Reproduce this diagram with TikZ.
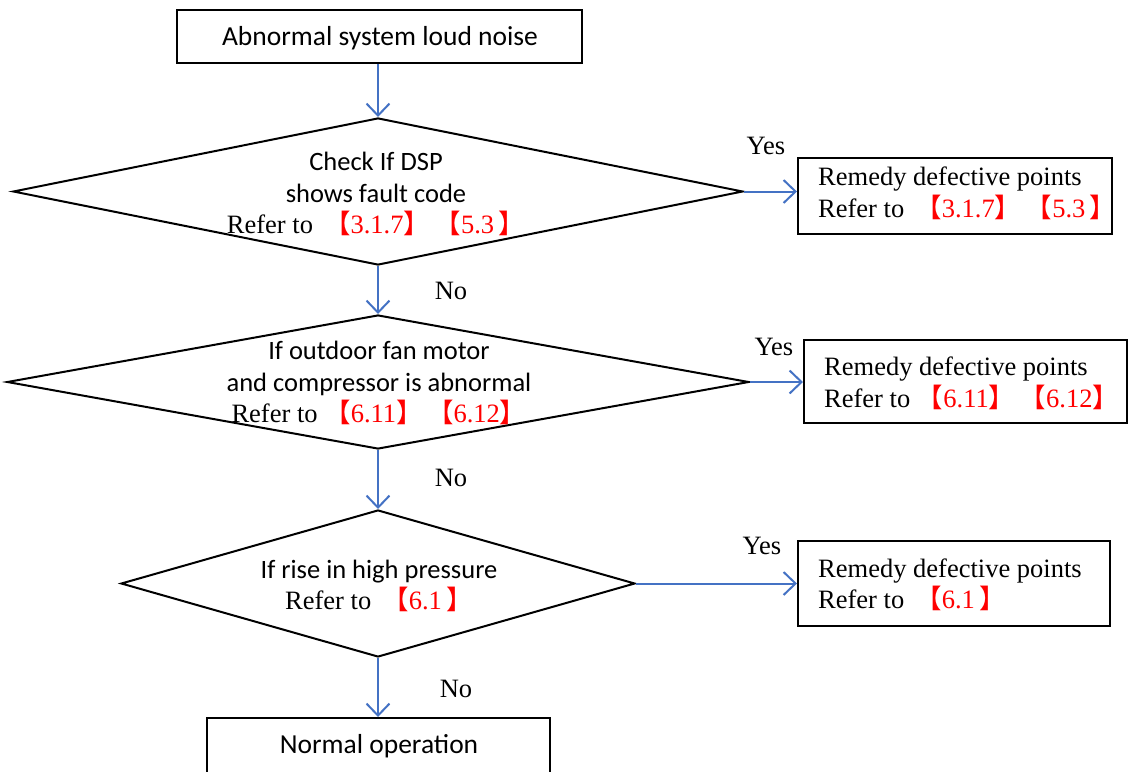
\documentclass[tikz,border=0pt]{standalone}
\usepackage{fontspec}
\setmainfont{Liberation Serif}
\newfontfamily\calfont{Carlito}
\newfontfamily\cjkfont{Noto Sans CJK SC}
\usetikzlibrary{arrows.meta,shapes.geometric}
\definecolor{arrowblue}{RGB}{68,114,196}
\definecolor{refred}{RGB}{255,0,0}
\newcommand{\rf}[1]{\textcolor{refred}{#1}}
\newcommand{\lb}{\textcolor{refred}{\cjkfont 【}}
\newcommand{\rb}{\textcolor{refred}{\cjkfont 】}}
\tikzset{
  boxnode/.style={draw=black,line width=2pt,rectangle,inner sep=0pt},
  decision/.style={draw=black,line width=2pt,diamond,inner sep=0pt},
  flow/.style={draw=arrowblue,line width=2pt,-{Straight Barb[length=12pt,width=23pt,line width=2pt]}},
  lbl/.style={font=\fontsize{26.5}{31}\selectfont,inner sep=0pt},
  dtext/.style={align=center,inner sep=0pt,font=\fontsize{26.5}{31.5}\selectfont},
  btext/.style={align=left,inner sep=0pt,font=\fontsize{26.5}{31.5}\selectfont,anchor=north west},
}
\begin{document}
\begin{tikzpicture}[x=1pt,y=-1pt]
\useasboundingbox (0,0) rectangle (1134,771);
\clip (0,0) rectangle (1134,771);
% top box
\node[boxnode,minimum width=405pt,minimum height=53pt] (start) at (379.5,36.5) {};
\node[font=\calfont\fontsize{27.5}{31}\selectfont,inner sep=0pt] (starttxt) at (380,38) {Abnormal system loud noise};
% diamond 1
\node[decision,minimum width=730pt,minimum height=147pt] (d1) at (378,191.5) {};
\node[dtext] (d1t) at (376,194) {{\calfont Check If DSP}\\{\calfont shows fault code}\\Refer to \,\lb\rf{3.1.7}\rb\,\lb\rf{5.3}\,\rb};
% box 1
\node[boxnode,minimum width=314pt,minimum height=76pt] (b1) at (955,196) {};
\node[btext] (b1t) at (818,167) {Remedy defective points\\Refer to \,\lb\rf{3.1.7}\rb\,\lb\rf{5.3}\,\rb};
% diamond 2
\node[decision,minimum width=742pt,minimum height=134pt] (d2) at (378,382) {};
\node[dtext] (d2t) at (379,383) {{\calfont If outdoor fan motor}\\{\calfont and compressor is abnormal}\\Refer to \lb\rf{6.11}\rb\,\lb\rf{6.12}\rb};
% box 2
\node[boxnode,minimum width=323pt,minimum height=83pt] (b2) at (965.5,381.5) {};
\node[btext] (b2t) at (824,357) {Remedy defective points\\Refer to \lb\rf{6.11}\rb\,\lb\rf{6.12}\rb};
% diamond 3
\node[decision,minimum width=514pt,minimum height=147pt] (d3) at (378,583.5) {};
\node[dtext] (d3t) at (379,586) {{\calfont If rise in high pressure}\\Refer to \,\lb\rf{6.1}\,\rb};
% box 3
\node[boxnode,minimum width=312pt,minimum height=85pt] (b3) at (954,583.5) {};
\node[btext] (b3t) at (818,558.5) {Remedy defective points\\Refer to \,\lb\rf{6.1}\,\rb};
% bottom box
\node[boxnode,minimum width=343pt,minimum height=70pt,anchor=north] (end) at (378.5,717) {};
\node[font=\calfont\fontsize{27.5}{31}\selectfont,inner sep=0pt] (endtxt) at (379,746) {Normal operation};
% connectors
\draw[flow] (start.south -| d1.north) -- (d1.north);
\draw[flow] (d1.south) -- (d2.north);
\draw[flow] (d2.south) -- (d3.north);
\draw[flow] (d3.south) -- (d3.south |- end.north);
\draw[flow] (d1.east) -- (b1.west |- d1.east);
\draw[flow] (d2.east) -- (b2.west |- d2.east);
\draw[flow] (d3.east) -- (b3.west);
% labels
\node[lbl] (y1) at (766,146) {Yes};
\node[lbl] (y2) at (774,347) {Yes};
\node[lbl] (y3) at (762,546) {Yes};
\node[lbl] (n1) at (451,291) {No};
\node[lbl] (n2) at (451,478) {No};
\node[lbl] (n3) at (456,689) {No};
\end{tikzpicture}
\end{document}
